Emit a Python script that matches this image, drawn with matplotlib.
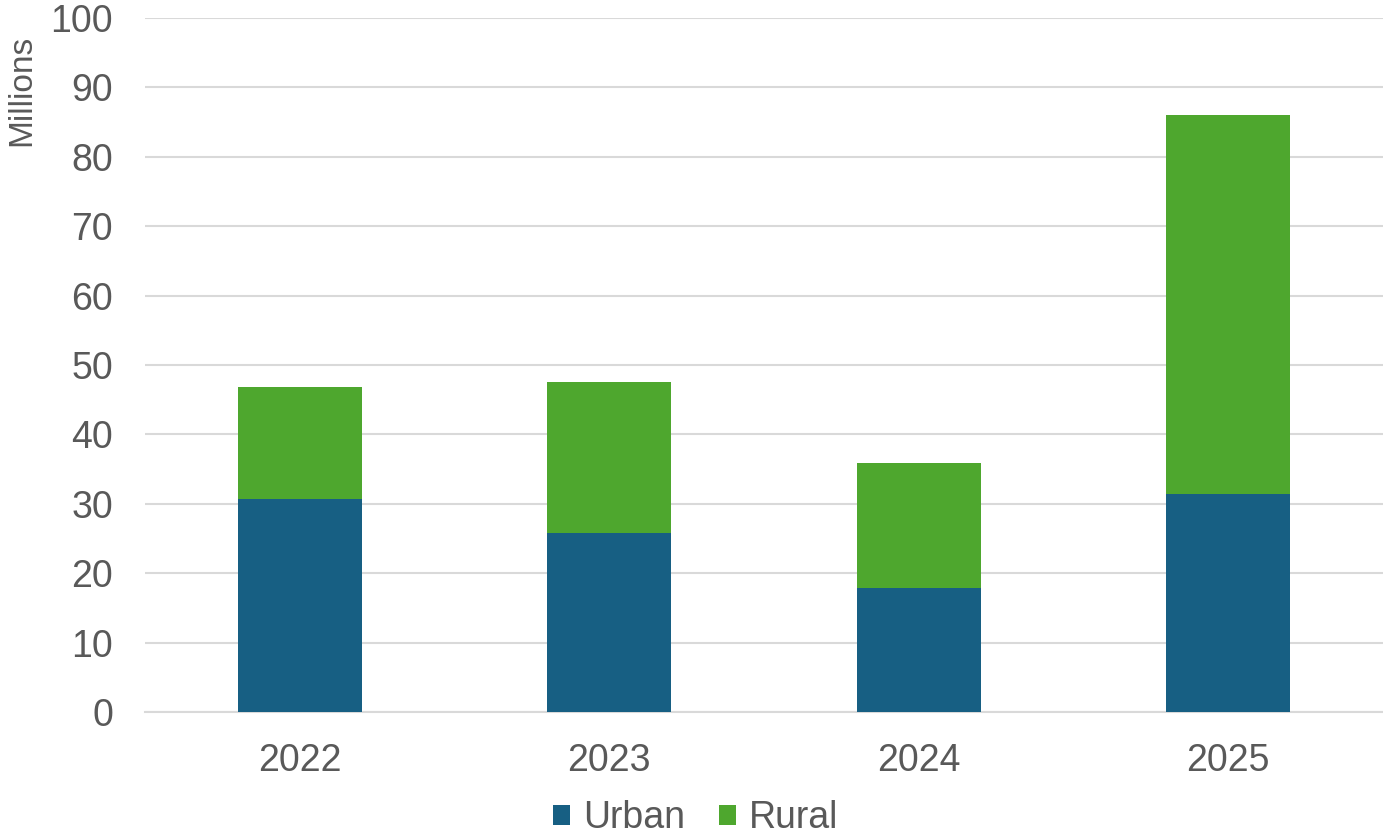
import matplotlib.pyplot as plt
import numpy as np

plt.rcParams['font.family'] = ['Liberation Sans', 'DejaVu Sans']

years = ['2022', '2023', '2024', '2025']
urban = [30.7, 25.8, 17.9, 31.4]
rural = [16.1, 21.7, 18.0, 54.6]

urban_color = '#175F83'
rural_color = '#4EA72E'
text_color = '#595959'

fig = plt.figure(figsize=(13.83, 8.36), dpi=100)
ax = fig.add_axes([0.1048, 0.1483, 0.8952, 0.8302])

x = np.arange(len(years))
ax.bar(x, urban, width=0.4, color=urban_color, label='Urban', zorder=3)
ax.bar(x, rural, width=0.4, bottom=urban, color=rural_color, label='Rural', zorder=3)

ax.set_xlim(-0.5, 3.5)
ax.set_ylim(0, 100)
ax.set_yticks(range(0, 101, 10))
ax.set_xticks(x)
ax.set_xticklabels(years)
ax.yaxis.grid(True, color='#d9d9d9', linewidth=1.5, zorder=0)
ax.set_axisbelow(True)

for s in ['top', 'right', 'left']:
    ax.spines[s].set_visible(False)
ax.spines['bottom'].set_color('#d9d9d9')
ax.spines['bottom'].set_linewidth(1.5)

ax.tick_params(axis='both', length=0, labelsize=27, colors=text_color)
ax.tick_params(axis='x', pad=22)
ax.tick_params(axis='y', pad=23)

fig.text(22 / 1383, 1 - 90 / 836, 'Millions', rotation=90, fontsize=24,
         color=text_color, ha='center', va='center')

fig.legend(loc='center', bbox_to_anchor=(0.503, 0.021), ncol=2, frameon=False,
           fontsize=27, labelcolor=text_color, handlelength=0.45, handleheight=0.45,
           handletextpad=0.35, columnspacing=0.9, borderaxespad=0, borderpad=0)

fig.savefig('out.png', dpi=100)
